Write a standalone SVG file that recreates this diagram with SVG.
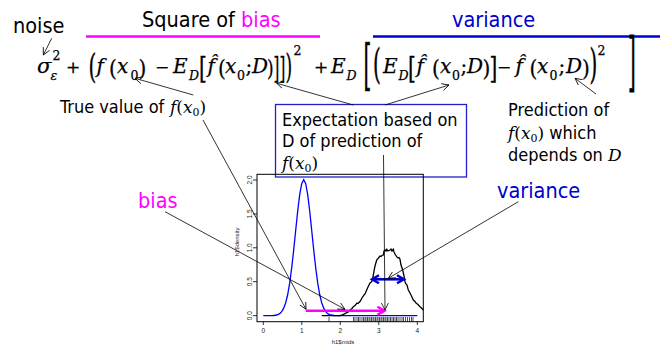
<svg xmlns="http://www.w3.org/2000/svg" width="660" height="345" viewBox="0 0 660 345">
<style>
.lab{font-family:"DejaVu Sans Condensed","DejaVu Sans",sans-serif;font-stretch:condensed;fill:#000}
.big{font-size:21.5px}
.sm{font-size:18px}
.m{font-family:"DejaVu Serif","Liberation Serif",serif;font-size:20px;fill:#000;font-stretch:normal}
#formula .m{stroke:#000;stroke-width:0.25}
.i{font-style:italic}
.op{font-size:17px}
.sub{font-size:12.5px}
.ax{font-family:"Liberation Sans",Arial,sans-serif;font-size:6.5px;fill:#222}
.thin{fill:none;stroke:#000;stroke-width:0.8}
</style>
<defs>
<marker id="ah" markerUnits="userSpaceOnUse" markerWidth="10" markerHeight="10" refX="7" refY="4" orient="auto">
<path d="M0,0.5 L7,4 L0,7.5" fill="none" stroke="#000" stroke-width="0.8"/>
</marker>
<marker id="mh" markerUnits="userSpaceOnUse" markerWidth="12" markerHeight="12" refX="8" refY="5" orient="auto">
<path d="M1,1 L8,5 L1,9" fill="none" stroke="#FF00FF" stroke-width="2.4"/>
</marker>
<marker id="bh" markerUnits="userSpaceOnUse" markerWidth="12" markerHeight="12" refX="8" refY="5" orient="auto-start-reverse">
<path d="M1,1 L8,5 L1,9" fill="none" stroke="#0000CC" stroke-width="2.4"/>
</marker>
</defs>
<rect width="660" height="345" fill="#fff"/>

<g id="title-bias">
<text class="lab big" x="142" y="27">Square of <tspan fill="#FF00FF">bias</tspan></text>
<line x1="86" y1="36.5" x2="320" y2="36.5" stroke="#FF00FF" stroke-width="2.5"/>
</g>
<g id="title-variance">
<text class="lab big" x="452" y="27" style="fill:#0000CC">variance</text>
<line x1="373" y1="36.5" x2="660" y2="36.5" stroke="#0000CC" stroke-width="2.5"/>
</g>
<g id="noise">
<text class="lab big" x="13" y="33">noise</text>
</g>

<g id="formula">
<text class="m i" x="37" y="73.3" style="font-size:21px">σ</text>
<text class="m i sub" x="50.5" y="79.5">ε</text>
<text class="m sub" x="52.5" y="60">2</text>
<text class="m op" x="66" y="73.3">+</text>
<text class="m" transform="translate(88.5,77.6) scale(1,1.69)">(</text>
<text class="m i" x="96.5" y="73.3">f</text>
<text class="m" transform="translate(109,75.8) scale(1,1.1)">(</text>
<text class="m i" x="117" y="73.3">x</text>
<text class="m sub" x="130.5" y="79.5">0</text>
<text class="m" transform="translate(138.5,75.8) scale(1,1.1)">)</text>
<text class="m op" x="155" y="73.3">−</text>
<text class="m i" x="173" y="73.3">E</text>
<text class="m i sub" x="189" y="79.5">D</text>
<text class="m" transform="translate(199,78) scale(1,1.52)">[</text>
<text class="m i" x="207.5" y="73.3">f̂</text>
<text class="m" transform="translate(218,75.8) scale(1,1.1)">(</text>
<text class="m i" x="225" y="73.3">x</text>
<text class="m sub" x="237" y="79.5">0</text>
<text class="m" x="245.5" y="73.3">;</text>
<text class="m i" x="252" y="73.3">D</text>
<text class="m" transform="translate(267,75.8) scale(0.85,1.1)">)</text>
<text class="m" transform="translate(273.5,78) scale(0.75,1.52)">]</text>
<text class="m" transform="translate(279.5,78) scale(0.75,1.52)">]</text>
<text class="m" transform="translate(285.5,77.6) scale(0.85,1.69)">)</text>
<text class="m sub" x="293.5" y="55">2</text>
<text class="m op" x="314" y="73.3">+</text>
<text class="m i" x="331" y="73.3">E</text>
<text class="m i sub" x="346.5" y="79.5">D</text>
<text class="m" transform="translate(363.5,83.9) scale(1,2.7)">[</text>
<text class="m" transform="translate(373,77.7) scale(1,2.02)">(</text>
<text class="m i" x="383" y="73.3">E</text>
<text class="m i sub" x="398.5" y="79.5">D</text>
<text class="m" transform="translate(408,78) scale(1,1.52)">[</text>
<text class="m i" x="416.5" y="73.3">f̂</text>
<text class="m" transform="translate(432,75.8) scale(1,1.1)">(</text>
<text class="m i" x="440" y="73.3">x</text>
<text class="m sub" x="452" y="79.5">0</text>
<text class="m" x="460.5" y="73.3">;</text>
<text class="m i" x="467" y="73.3">D</text>
<text class="m" transform="translate(482.5,75.8) scale(1,1.1)">)</text>
<text class="m" transform="translate(489.5,78) scale(1,1.52)">]</text>
<text class="m op" x="497" y="73.3">−</text>
<text class="m i" x="515.5" y="73.3">f̂</text>
<text class="m" transform="translate(529.5,75.8) scale(1,1.1)">(</text>
<text class="m i" x="537" y="73.3">x</text>
<text class="m sub" x="549.5" y="79.5">0</text>
<text class="m" x="558.5" y="73.3">;</text>
<text class="m i" x="566" y="73.3">D</text>
<text class="m" transform="translate(582,75.8) scale(1,1.1)">)</text>
<text class="m" transform="translate(589.5,77.7) scale(1,2.02)">)</text>
<text class="m sub" x="597.5" y="55">2</text>
<text class="m" transform="translate(628,83.5) scale(1,3.2)">]</text>
</g>

<g id="label-true">
<text class="lab sm" x="60" y="112.5">True value of <tspan class="m i" x="170" style="font-size:17px">f</tspan><tspan class="m" style="font-size:17px">(</tspan><tspan class="m i" style="font-size:17px">x</tspan><tspan class="m sub" dy="3" style="font-size:11px">0</tspan><tspan class="m" dy="-3" style="font-size:17px">)</tspan></text>
</g>

<g id="box-expectation">
<rect x="275.5" y="104.5" width="191" height="72.5" fill="none" stroke="#2020CC" stroke-width="1.3"/>
<text class="lab sm" x="282" y="126">Expectation based on</text>
<text class="lab sm" x="282" y="147">D of prediction of</text>
<text class="lab sm" x="282" y="169"><tspan class="m i" style="font-size:17px">f</tspan><tspan class="m" style="font-size:17px">(</tspan><tspan class="m i" style="font-size:17px">x</tspan><tspan class="m sub" dy="3" style="font-size:11px">0</tspan><tspan class="m" dy="-3" style="font-size:17px">)</tspan></text>
</g>

<g id="label-prediction">
<text class="lab sm" x="508" y="116">Prediction of</text>
<text class="lab sm" x="508" y="138.5"><tspan class="m i" style="font-size:17px">f</tspan><tspan class="m" style="font-size:17px">(</tspan><tspan class="m i" style="font-size:17px">x</tspan><tspan class="m sub" dy="3" style="font-size:11px">0</tspan><tspan class="m" dy="-3" style="font-size:17px">)</tspan> which</text>
<text class="lab sm" x="508" y="160.5">depends on <tspan class="m i" style="font-size:17px">D</tspan></text>
</g>

<g id="label-bias">
<text class="lab big" x="138" y="208" style="fill:#FF00FF">bias</text>
</g>
<g id="label-variance">
<text class="lab big" x="497" y="198" style="fill:#0000CC">variance</text>
</g>

<g id="plot">
<rect x="257" y="174.3" width="166.3" height="147.4" fill="none" stroke="#000" stroke-width="1"/>
<g stroke="#000" stroke-width="0.8">
<line x1="253" y1="180" x2="257" y2="180"/>
<line x1="253" y1="214" x2="257" y2="214"/>
<line x1="253" y1="247.8" x2="257" y2="247.8"/>
<line x1="253" y1="281.7" x2="257" y2="281.7"/>
<line x1="253" y1="315.7" x2="257" y2="315.7"/>
<line x1="263.3" y1="321.7" x2="263.3" y2="325"/>
<line x1="301.8" y1="321.7" x2="301.8" y2="325"/>
<line x1="340.3" y1="321.7" x2="340.3" y2="325"/>
<line x1="378.8" y1="321.7" x2="378.8" y2="325"/>
<line x1="417.3" y1="321.7" x2="417.3" y2="325"/>
</g>
<g class="ax" text-anchor="middle">
<text transform="translate(252,180) rotate(-90)">2.0</text>
<text transform="translate(252,214) rotate(-90)">1.5</text>
<text transform="translate(252,247.8) rotate(-90)">1.0</text>
<text transform="translate(252,281.7) rotate(-90)">0.5</text>
<text transform="translate(252,315.7) rotate(-90)">0.0</text>
<text x="263.3" y="333">0</text>
<text x="301.8" y="333">1</text>
<text x="340.3" y="333">2</text>
<text x="378.8" y="333">3</text>
<text x="417.3" y="333">4</text>
<text x="343" y="344" style="font-size:6px">h1$mids</text>
<text transform="translate(239,242) rotate(-90)" style="font-size:6px">h1$density</text>
</g>
<path d="M263.3,315.7 L270,315.7 L273.7,315.5 L276.7,315 L279.7,313.6 L281.7,311.6 L283.7,308.2 L285.7,302.7 L287.7,294.5 L289.7,282.9 L291.7,267.8 L293.7,249.9 L295.7,230.2 L297.7,211 L299.7,194.7 L301.7,183.6 L303.7,179.7 L305.7,183.6 L307.7,194.7 L309.7,211 L311.7,230.2 L313.7,249.9 L315.7,267.8 L317.7,282.9 L319.7,294.5 L321.7,302.7 L323.7,308.2 L325.7,311.6 L327.7,313.6 L330.7,315 L334,315.5 L340,315.7 L417.3,315.7" fill="none" stroke="#0000FF" stroke-width="1.3"/>
<path d="M321.7,315.7 L340,315.7 L343,314.6 L346.7,312.7 L348,312.3 L350,310 L352,308.5 L353.3,306.7 L355,305.5 L357,303 L358,303.5 L360,301.5 L362,298 L364,295 L365,294 L366.7,290 L368,287 L370,283 L371.7,281.7 L373,277 L374,271 L375,266 L376.7,260 L378,258.5 L380,256 L381,256.5 L382,255.5 L383.3,255 L384,251 L385,250 L386,251 L386.7,249.3 L388,251 L389,250.5 L390,250 L391,249 L392,251 L393.3,249.3 L394,252 L395.5,255 L396.7,256.7 L398,258 L399,257.5 L400,259.3 L401,265 L402.7,270 L404,276 L405,281.7 L406,284 L407,285 L408.3,290 L410,293 L411.5,296 L413.3,300 L415,301.5 L416,303 L418,304.5 L420,306.7 L421.5,308 L423.3,310" fill="none" stroke="#000" stroke-width="1.3"/>
<g stroke="#000" stroke-width="0.7">
<line x1="329" y1="317" x2="329" y2="321.7"/>
<line x1="353.5" y1="317" x2="353.5" y2="321.7"/>
<line x1="355" y1="317" x2="355" y2="321.7"/>
<line x1="357" y1="317" x2="357" y2="321.7"/>
<line x1="358.5" y1="317" x2="358.5" y2="321.7"/>
<line x1="360" y1="317" x2="360" y2="321.7"/>
<line x1="362" y1="317" x2="362" y2="321.7"/>
<line x1="363.5" y1="317" x2="363.5" y2="321.7"/>
<line x1="365" y1="317" x2="365" y2="321.7"/>
<line x1="366" y1="317" x2="366" y2="321.7"/>
<line x1="367.5" y1="317" x2="367.5" y2="321.7"/>
<line x1="369" y1="317" x2="369" y2="321.7"/>
<line x1="370" y1="317" x2="370" y2="321.7"/>
<line x1="371.5" y1="317" x2="371.5" y2="321.7"/>
<line x1="373" y1="317" x2="373" y2="321.7"/>
<line x1="374" y1="317" x2="374" y2="321.7"/>
<line x1="375.5" y1="317" x2="375.5" y2="321.7"/>
<line x1="377" y1="317" x2="377" y2="321.7"/>
<line x1="378" y1="317" x2="378" y2="321.7"/>
<line x1="379.5" y1="317" x2="379.5" y2="321.7"/>
<line x1="381" y1="317" x2="381" y2="321.7"/>
<line x1="382" y1="317" x2="382" y2="321.7"/>
<line x1="383.5" y1="317" x2="383.5" y2="321.7"/>
<line x1="385" y1="317" x2="385" y2="321.7"/>
<line x1="386" y1="317" x2="386" y2="321.7"/>
<line x1="387.5" y1="317" x2="387.5" y2="321.7"/>
<line x1="389" y1="317" x2="389" y2="321.7"/>
<line x1="390.5" y1="317" x2="390.5" y2="321.7"/>
<line x1="392" y1="317" x2="392" y2="321.7"/>
<line x1="393.5" y1="317" x2="393.5" y2="321.7"/>
<line x1="395" y1="317" x2="395" y2="321.7"/>
<line x1="396.5" y1="317" x2="396.5" y2="321.7"/>
<line x1="398" y1="317" x2="398" y2="321.7"/>
<line x1="400" y1="317" x2="400" y2="321.7"/>
<line x1="402" y1="317" x2="402" y2="321.7"/>
<line x1="403.5" y1="317" x2="403.5" y2="321.7"/>
<line x1="405.5" y1="317" x2="405.5" y2="321.7"/>
<line x1="407.5" y1="317" x2="407.5" y2="321.7"/>
<line x1="409.5" y1="317" x2="409.5" y2="321.7"/>
<line x1="411.5" y1="317" x2="411.5" y2="321.7"/>
<line x1="413" y1="317" x2="413" y2="321.7"/>
</g>
<line x1="306" y1="310.7" x2="384.5" y2="310.7" stroke="#FF00FF" stroke-width="2.6" marker-end="url(#mh)"/>
<line x1="372" y1="279.3" x2="404" y2="279.3" stroke="#0000CC" stroke-width="2.6" marker-start="url(#bh)" marker-end="url(#bh)"/>
</g>

<g id="connectors">
<line class="thin" x1="51.7" y1="38.3" x2="43.3" y2="55" marker-end="url(#ah)"/>
<line class="thin" x1="193.3" y1="95" x2="135" y2="78.3" marker-end="url(#ah)"/>
<line class="thin" x1="353.3" y1="105" x2="276.7" y2="83.3" marker-end="url(#ah)"/>
<line class="thin" x1="385" y1="105" x2="449" y2="85" marker-end="url(#ah)"/>
<line class="thin" x1="596" y1="94" x2="575" y2="78.3" marker-end="url(#ah)"/>
<line class="thin" x1="383.5" y1="155" x2="385" y2="310" marker-end="url(#ah)"/>
<line class="thin" x1="203" y1="120" x2="306" y2="309.3" marker-end="url(#ah)"/>
<line class="thin" x1="165" y1="211.7" x2="345" y2="309.3" marker-end="url(#ah)"/>
<line class="thin" x1="518.3" y1="201.7" x2="388.3" y2="278.3" marker-end="url(#ah)"/>
</g>
</svg>
